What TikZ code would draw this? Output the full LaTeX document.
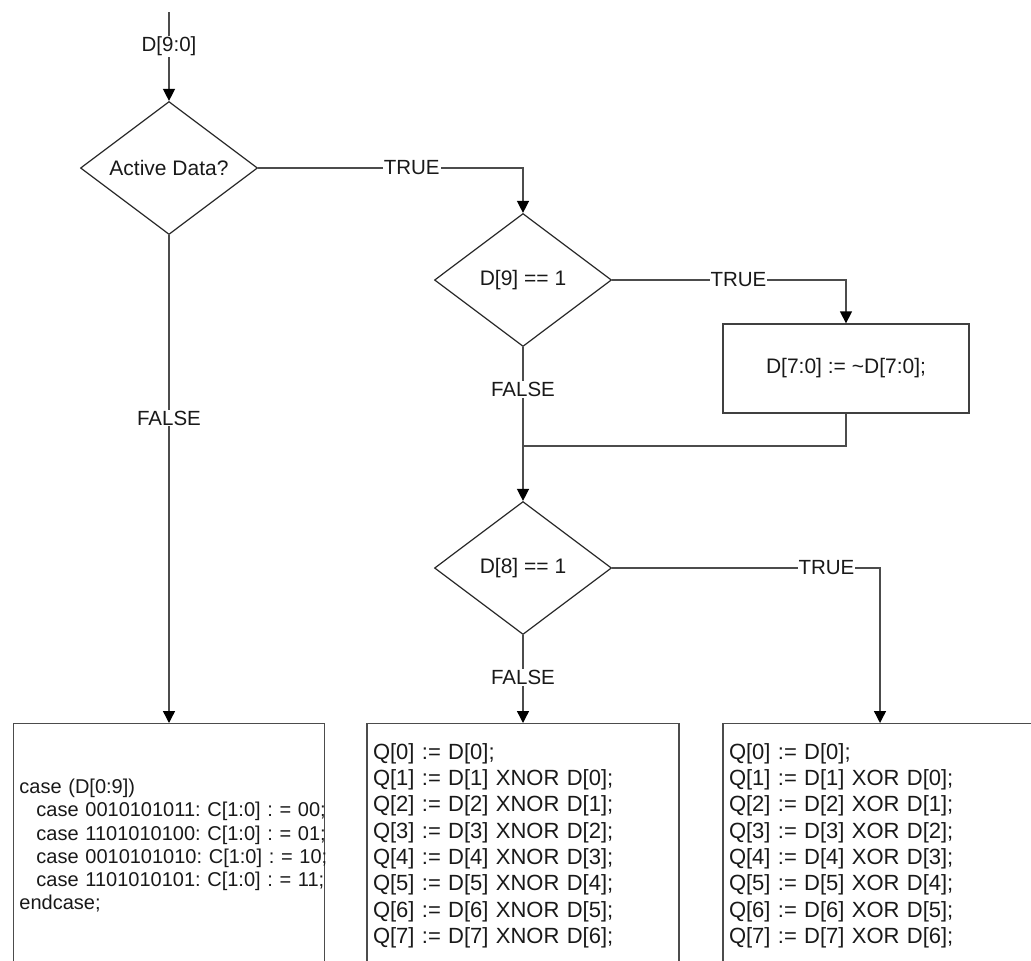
\documentclass[tikz,border=0pt]{standalone}
\usepackage{fontspec}
\setmainfont{Liberation Sans}
\frenchspacing
\usetikzlibrary{shapes.geometric,arrows.meta}
\tikzset{
    decision/.style={diamond, draw=black!85, line width=1.2pt, shape aspect=1.33,
        minimum width=177pt, minimum height=133pt, inner sep=0pt,
        text=black!90, font=\fontsize{21}{25}\selectfont},
    stepbox/.style={rectangle, draw=black!75, line width=1.3pt, inner sep=0pt,
        text=black!90, font=\fontsize{21}{25}\selectfont},
    codebox/.style={rectangle, draw=black!70, line width=1.4pt, anchor=north,
        minimum height=244pt, inner xsep=6pt, inner ysep=0pt, align=left,
        text=black!90},
    link/.style={draw=black!70, line width=1.4pt},
    flow/.style={link, -{Triangle[width=12pt,length=12pt,black]}},
    lbl/.style={fill=white, inner sep=1pt, text=black!90,
        font=\fontsize{20.5}{24}\selectfont}
}
\begin{document}
\begin{tikzpicture}[x=1pt,y=-1pt]
        \useasboundingbox (0,0) rectangle (1031,961);
        \clip (0,0) rectangle (1031,961);
        \node[decision] (active) at (169,168) {Active Data?};
        \node[decision] (msb) at (523,280) {D[9] == 1};
        \node[stepbox, minimum width=246pt, minimum height=89pt] (invert) at (846,368.5) {D[7:0] := \textasciitilde D[7:0];};
        \node[decision] (bit8) at (523,568) {D[8] == 1};
        \node[codebox, minimum width=311pt, text width=299pt,
            font=\fontsize{20}{23.3}\selectfont] (casebox) at (169,723)
            {case (D[0:9])\\
            \hspace*{17pt}\mbox{case 0010101011: C[1:0] : = 00;}\\
            \hspace*{17pt}\mbox{case 1101010100: C[1:0] : = 01;}\\
            \hspace*{17pt}\mbox{case 0010101010: C[1:0] : = 10;}\\
            \hspace*{17pt}\mbox{case 1101010101: C[1:0] : = 11;}\\
            endcase;};
        \node[codebox, minimum width=312pt, text width=300pt,
            font=\fontsize{22}{26.3}\selectfont] (xnorbox) at (523,723)
            {Q[0] := D[0];\\
            Q[1] := D[1] XNOR D[0];\\
            Q[2] := D[2] XNOR D[1];\\
            Q[3] := D[3] XNOR D[2];\\
            Q[4] := D[4] XNOR D[3];\\
            Q[5] := D[5] XNOR D[4];\\
            Q[6] := D[6] XNOR D[5];\\
            Q[7] := D[7] XNOR D[6];};
        \node[codebox, minimum width=314pt, text width=302pt,
            font=\fontsize{22}{26.3}\selectfont] (xorbox) at (880,723)
            {Q[0] := D[0];\\
            Q[1] := D[1] XOR D[0];\\
            Q[2] := D[2] XOR D[1];\\
            Q[3] := D[3] XOR D[2];\\
            Q[4] := D[4] XOR D[3];\\
            Q[5] := D[5] XOR D[4];\\
            Q[6] := D[6] XOR D[5];\\
            Q[7] := D[7] XOR D[6];};
        \coordinate (in) at (169,12);
        \coordinate (merge) at (523,446);
        \draw[flow] (in) -- node[lbl, pos=0.39] {D[9:0]} (active.north);
        \draw[flow] (active.east) -| node[lbl, pos=0.29] {TRUE} (msb.north);
        \draw[flow] (active.south) -- node[lbl, pos=0.375] {FALSE} (casebox.north);
        \draw[flow] (msb.east) -| node[lbl, pos=0.27] {TRUE} (invert.north);
        \draw[flow] (msb.south) -- node[lbl, pos=0.276] {FALSE} (bit8.north);
        \draw[link] (invert.south) |- (merge);
        \draw[flow] (bit8.east) -| node[lbl, pos=0.4] {TRUE} (xorbox.north);
        \draw[flow] (bit8.south) -- node[lbl, pos=0.48] {FALSE} (xnorbox.north);
    \end{tikzpicture}
\end{document}
